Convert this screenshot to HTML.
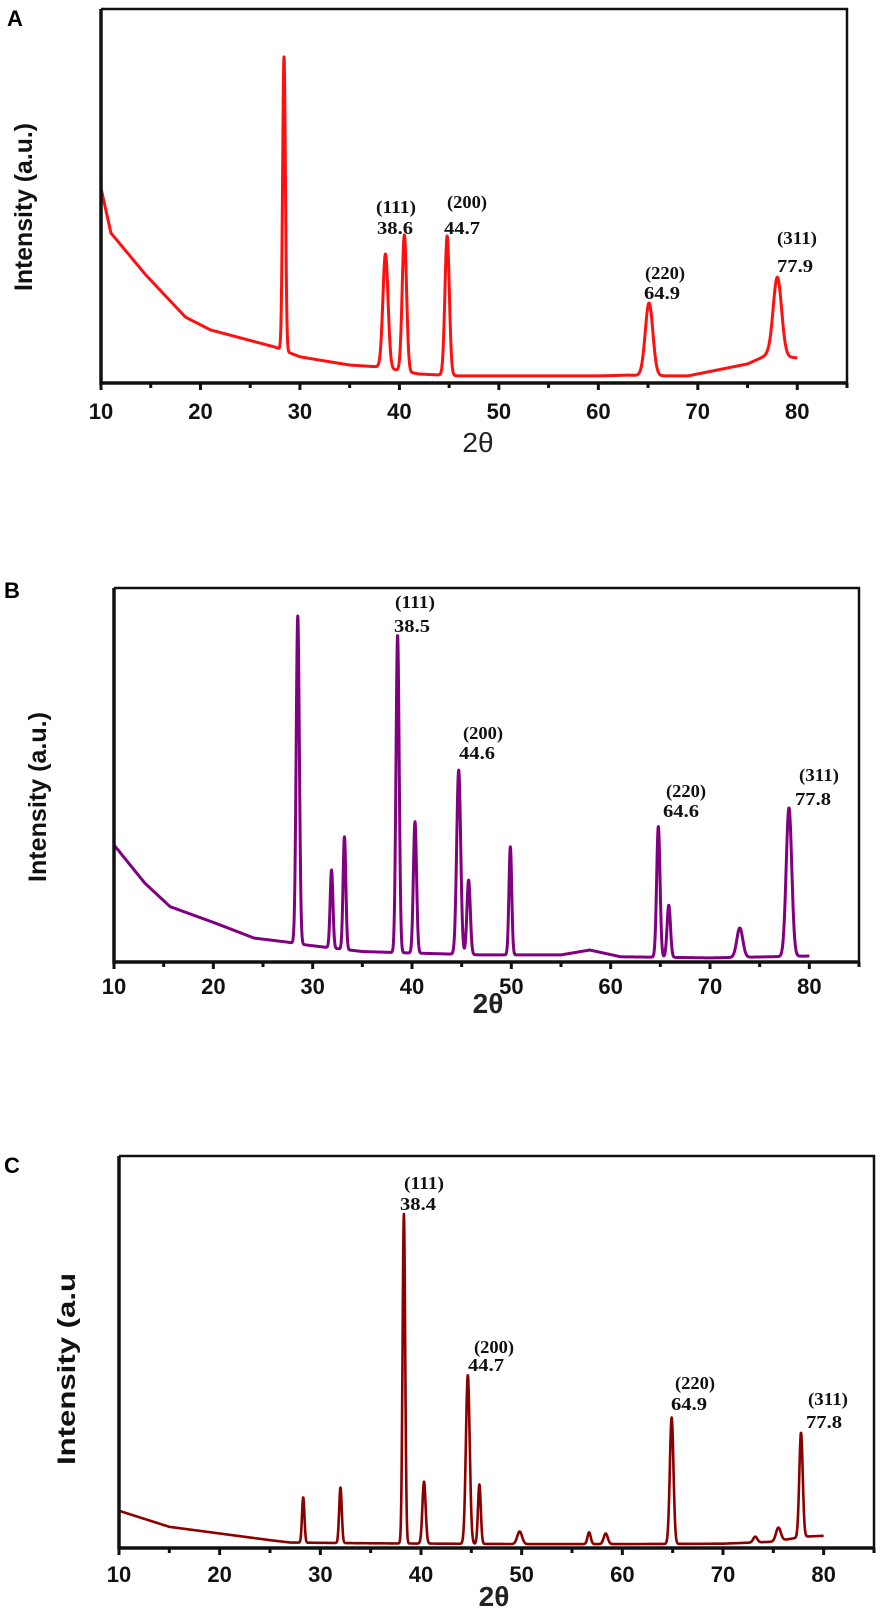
<!DOCTYPE html>
<html><head><meta charset="utf-8">
<style>
html,body{margin:0;padding:0;background:#fff;}
svg{display:block;}
.tick{font-family:"Liberation Sans",Arial,sans-serif;font-weight:bold;font-size:22px;fill:#111;}
.ann{font-family:"Liberation Serif","Times New Roman",serif;font-weight:bold;font-size:18px;fill:#111;}
.ytitle{font-family:"Liberation Sans",Arial,sans-serif;font-weight:bold;font-size:25px;fill:#111;}
.xtitle{font-family:"Liberation Sans","DejaVu Sans",sans-serif;font-size:28px;fill:#222;}
.plab{font-family:"Liberation Sans",Arial,sans-serif;font-weight:bold;font-size:22px;fill:#000;}
</style></head>
<body>
<svg id="fig" width="886" height="1610" viewBox="0 0 886 1610" xmlns="http://www.w3.org/2000/svg"></svg>
<script>
// ---- shared tick data ----
const xTickValues = [10,20,30,40,50,60,70,80];
const xMinorValues = [15,25,35,45,55,65,75,85];

// ---- Panel A data (2θ deg, intensity 0-100) ----
const aBgX = [10,11,14.5,18.5,21,27.5,30,35,38,42,46,60,63,67,69,75,77,80];
const aBgY = [52.1,40.1,28.9,17.6,14.2,9.6,7.0,4.8,4.3,2.4,1.9,1.9,2.1,1.9,1.9,5.1,7.5,6.7];
const aPeakPos = [28.4,38.6,40.5,44.8,65.1,78.0];
const aPeakTop = [87.2,34.5,39.6,39.3,21.4,28.3];
const aPeakW = [0.14,0.26,0.22,0.22,0.38,0.42];
const aLabelHkl = ["(111)","(200)","(220)","(311)"];
const aLabelVal = ["38.6","44.7","64.9","77.9"];

// ---- Panel B data ----
const bBgX = [10,13.1,15.65,20.2,24.1,27.5,29.5,35,40,47,55,57.9,61,70,80];
const bBgY = [31.3,21.1,14.8,10.4,6.4,5.3,4.5,2.8,2.4,1.9,1.9,3.2,1.4,1.1,1.6];
const bPeakPos = [28.5,31.9,33.2,38.55,40.3,44.7,45.7,49.9,64.8,65.85,73.0,77.95];
const bPeakTop = [92.5,24.6,33.5,87.4,37.5,51.3,21.9,30.8,36.2,15.2,9.1,41.2];
const bPeakW = [0.16,0.14,0.14,0.16,0.16,0.2,0.17,0.14,0.17,0.17,0.3,0.28];
const bLabelHkl = ["(111)","(200)","(220)","(311)"];
const bLabelVal = ["38.5","44.6","64.6","77.8"];

// ---- Panel C data ----
const cBgX = [10,15,20,25,27,35,50,60,70,75,78,80];
const cBgY = [9.5,5.4,3.7,2.0,1.4,1.2,1.0,1.0,1.1,1.6,2.9,3.1];
const cPeakPos = [28.3,32.0,38.3,40.3,44.65,45.8,49.8,56.7,58.35,64.9,73.2,75.5,77.75];
const cPeakTop = [12.9,15.4,85.2,16.9,44.1,16.2,4.2,4.0,3.7,33.3,2.9,5.2,29.4];
const cPeakW = [0.12,0.13,0.13,0.16,0.19,0.14,0.24,0.16,0.2,0.18,0.2,0.24,0.17];
const cLabelHkl = ["(111)","(200)","(220)","(311)"];
const cLabelVal = ["38.4","44.7","64.9","77.8"];

const NS = "http://www.w3.org/2000/svg";
const fig = document.getElementById('fig');
function mk(tag, attrs, parent){
  const e = document.createElementNS(NS, tag);
  for (const k in attrs) e.setAttribute(k, attrs[k]);
  (parent||fig).appendChild(e);
  return e;
}
function interp(xs, ys, x){
  if (x <= xs[0]) return ys[0];
  for (let i=1;i<xs.length;i++){
    if (x <= xs[i]){ const t=(x-xs[i-1])/(xs[i]-xs[i-1]); return ys[i-1]+t*(ys[i]-ys[i-1]); }
  }
  return ys[ys.length-1];
}

function panel(cfg){
  const g = mk('g', {});
  
  
  const xs = v => cfg.left + (v-10)*(cfg.right-cfg.left)/75;
  const ys = v => cfg.bottom - v*(cfg.bottom-cfg.top)/100;
  const amps = cfg.pos.map((p,i)=> cfg.top_[i] - interp(cfg.bgX,cfg.bgY,p));
  let d = '';
  for (let x=10; x<=80.0001; x+=0.02){
    let v = interp(cfg.bgX,cfg.bgY,x);
    for (let i=0;i<cfg.pos.length;i++){
      const z=(x-cfg.pos[i])/cfg.w[i];
      v += amps[i]*Math.exp(-0.5*z*z);
    }
    d += (d?'L':'M') + xs(x).toFixed(2) + ',' + ys(v).toFixed(2);
  }
  const path = mk('path', {d:d, fill:'none', stroke:cfg.color, 'stroke-width':cfg.lw, 'stroke-linejoin':'round'}, g);
  
  
  const fr = mk('path', {d:`M${cfg.left},${cfg.top}H${cfg.right}V${cfg.bottom}`, fill:'none', stroke:'#111', 'stroke-width':2.5}, g);
  
  
  const ax = mk('path', {d:`M${cfg.left},${cfg.top}V${cfg.bottom}H${cfg.right}`, fill:'none', stroke:'#111', 'stroke-width':3.5}, g);
  
  
  xTickValues.forEach(v=>{
    const t = mk('line', {x1:xs(v), x2:xs(v), y1:cfg.bottom, y2:cfg.bottom+7, stroke:'#111','stroke-width':3}, g);
    
    
    const l = mk('text', {x:xs(v), y:cfg.bottom+cfg.tickDy, 'text-anchor':'middle', class:'tick'}, g);
    l.textContent = v;
    
    
  });
  xMinorValues.forEach(v=>{
    const t = mk('line', {x1:xs(v), x2:xs(v), y1:cfg.bottom, y2:cfg.bottom+5, stroke:'#111','stroke-width':3}, g);
    
    
  });
  const xt = mk('text', {x:cfg.xtX, y:cfg.xtY, 'text-anchor':'middle', class:'xtitle', 'font-weight':cfg.xtBold?'bold':'normal'}, g);
  xt.textContent = '2θ';
  
  
  const yt = mk('text', {x:0, y:0, 'text-anchor':'middle', class:'ytitle', transform:`translate(${cfg.ytX},${cfg.ytY}) rotate(-90)`, 'font-size':cfg.ytSize, textLength:cfg.ytLen, lengthAdjust:'spacingAndGlyphs'}, g);
  yt.textContent = cfg.ytText;
  
  
  const pl = mk('text', {x:cfg.plX, y:cfg.plY, class:'plab'}, g);
  pl.textContent = cfg.letter;
  
  
  cfg.ann.forEach((a,i)=>{
    const h = mk('text', {x:a[0], y:a[1], 'text-anchor':'middle', class:'ann', textLength:cfg.hklW, lengthAdjust:'spacingAndGlyphs'}, g);
    h.textContent = cfg.hkl[i];
    
    
    const v = mk('text', {x:a[2], y:a[3], 'text-anchor':'middle', class:'ann', textLength:cfg.valW, lengthAdjust:'spacingAndGlyphs'}, g);
    v.textContent = cfg.val[i];
    
    
  });
}

panel({name:'panel-a', letter:'A', left:101, right:847, top:9, bottom:383, color:'#ff1010', lw:3,
  bgX:aBgX, bgY:aBgY, pos:aPeakPos, top_:aPeakTop, w:aPeakW, hkl:aLabelHkl, val:aLabelVal,
  tickDy:36, xtX:478, xtY:452, xtBold:false, ytX:32, ytY:207, ytSize:25, ytLen:168, ytText:'Intensity (a.u.)',
  plX:7, plY:26, hklW:40, valW:36,
  ann:[[396,213,395,234],[467,208,462,234],[665,279,662,299],[797,244,795,272]]});

panel({name:'panel-b', letter:'B', left:114, right:859, top:588, bottom:962, color:'#800080', lw:3,
  bgX:bBgX, bgY:bBgY, pos:bPeakPos, top_:bPeakTop, w:bPeakW, hkl:bLabelHkl, val:bLabelVal,
  tickDy:32, xtX:488, xtY:1013, xtBold:true, ytX:46, ytY:797, ytSize:25, ytLen:170, ytText:'Intensity (a.u.)',
  plX:4, plY:598, hklW:40, valW:36,
  ann:[[415,608,412,632],[483,739,477,759],[686,797,681,817],[819,781,813,805]]});

panel({name:'panel-c', letter:'C', left:119, right:874, top:1156, bottom:1548, color:'#8b0000', lw:2.6,
  bgX:cBgX, bgY:cBgY, pos:cPeakPos, top_:cPeakTop, w:cPeakW, hkl:cLabelHkl, val:cLabelVal,
  tickDy:34, xtX:494, xtY:1606, xtBold:true, ytX:75, ytY:1369, ytSize:29, ytLen:192, ytText:'Intensity (a.u',
  plX:4, plY:1173, hklW:40, valW:36,
  ann:[[424,1189,418,1210],[494,1353,486,1371],[695,1389,689,1410],[828,1405,824,1428]]});
</script>
</body></html>
